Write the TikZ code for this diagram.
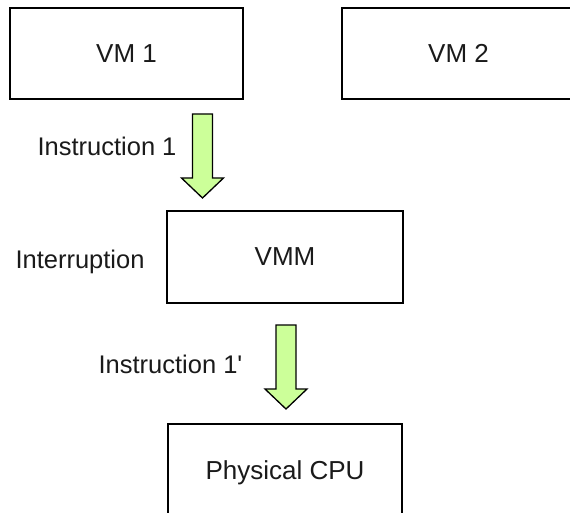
\documentclass[tikz,border=0pt]{standalone}
\usepackage{fontspec}
\setmainfont{Liberation Sans}
\usetikzlibrary{calc}

\definecolor{arrowgreen}{RGB}{204,255,153}
\definecolor{ink}{RGB}{26,26,26}

\tikzset{
  boxnode/.style={draw=black, line width=1.8pt, fill=white, inner sep=0pt,
    text depth=0pt, font=\fontsize{26}{30}\selectfont, text=ink},
  labelnode/.style={anchor=base, inner sep=0pt,
    font=\fontsize{25.5}{30}\selectfont, text=ink},
  blockarrow/.style={draw=black, line width=1.3pt, fill=arrowgreen, line join=miter},
}

% Downward block arrow hanging from a named top-centre coordinate
\newcommand{\downblockarrow}[1]{%
  \draw[blockarrow] ($(#1)+(-10,0)$) -- ($(#1)+(10,0)$) -- ($(#1)+(10,64)$)
    -- ($(#1)+(21,64)$) -- ($(#1)+(0,84)$) -- ($(#1)+(-21,64)$)
    -- ($(#1)+(-10,64)$) -- cycle;}

\begin{document}
\begin{tikzpicture}[x=1pt, y=-1pt]
  \useasboundingbox (0,0) rectangle (570,513);

  % guest machines
  \node[boxnode, minimum width=233pt, minimum height=91pt] (vm1) at (126.5,53.5) {VM 1};
  \node[boxnode, minimum width=233pt, minimum height=91pt] (vm2) at (458.5,53.5) {VM 2};

  % monitor and hardware
  \node[boxnode, minimum width=236pt, minimum height=92pt] (vmm) at (285,257) {VMM};
  \node[boxnode, minimum width=234pt, minimum height=92pt] (cpu) at (285,470) {Physical CPU};

  % instruction flow
  \coordinate (a1) at (202.5,114);
  \coordinate (a2) at (286,325);
  \downblockarrow{a1}
  \downblockarrow{a2}

  % labels
  \node[labelnode] (l1) at (107,155.5) {Instruction 1};
  \node[labelnode] (l2) at (80,268) {Interruption};
  \node[labelnode] (l3) at (170.5,373.3) {Instruction 1\textquotesingle};
\end{tikzpicture}
\end{document}
